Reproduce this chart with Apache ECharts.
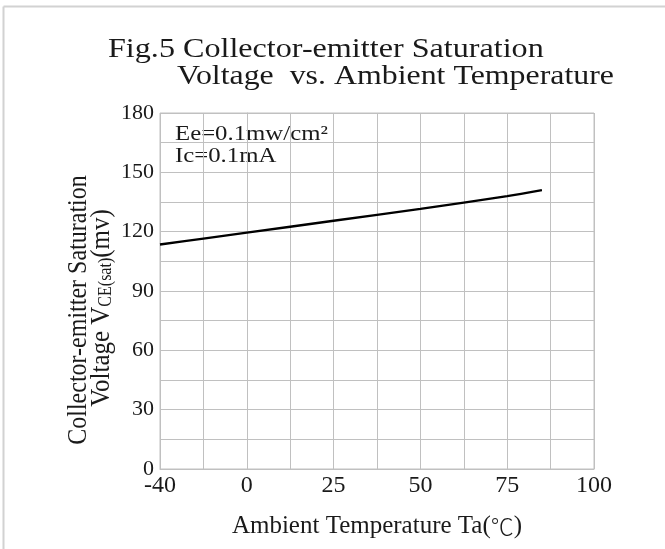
<!DOCTYPE html>
<html>
<head>
<meta charset="utf-8">
<script src="https://cdn.jsdelivr.net/npm/echarts@6/dist/echarts.min.js"></script>
<style>html,body{margin:0;padding:0;background:#fff}#c{width:665px;height:549px}</style>
</head>
<body>
<div id="c"></div>
<script>
// Data
const temps = [-40, -20, 0, 25, 50, 75, 85];            // Ta (°C)
const vceSat = [113.5, 116.5, 119.5, 125.5, 131.5, 138, 141]; // mV
const xTickLabels = [-40, 0, 25, 50, 75, 100];
const yTickLabels = [0, 30, 60, 90, 120, 150, 180];

// Broken x-axis: -40..0 occupies two grid columns (same as 25 °C on the right side)
function xPos(t) { return t < 0 ? t * 25 / 40 : t; }

const FONT = '"Liberation Serif", "Times New Roman", "Noto Sans CJK SC", serif';
const chart = echarts.init(document.getElementById('c'), null, {renderer: 'canvas'});

const seriesData = temps.map((t, i) => [xPos(t), vceSat[i]]);

chart.setOption({
  backgroundColor: '#fff',
  animation: false,
  grid: {left: 160, right: 71, top: 113, bottom: 80, show: true, borderColor: '#c0c0c0', borderWidth: 1},
  xAxis: {
    type: 'value', min: xPos(-40), max: 100, interval: 12.5,
    name: 'Ambient Temperature Ta({c|℃})', nameLocation: 'middle', nameGap: 45,
    nameTextStyle: {fontFamily: FONT, fontSize: 25, color: '#1a1a1a',
      rich: {c: {fontFamily: '"Noto Sans CJK SC", sans-serif', fontSize: 23, fontWeight: 300, color: '#1a1a1a'}}},
    axisLine: {show: true, lineStyle: {color: '#c0c0c0'}},
    axisTick: {show: false},
    splitLine: {show: true, lineStyle: {color: '#c0c0c0', width: 1}},
    axisLabel: {
      fontFamily: FONT, fontSize: 24, color: '#1a1a1a', margin: 5, showMinLabel: true, showMaxLabel: true,
      formatter: function (v) {
        for (const t of xTickLabels) { if (Math.abs(xPos(t) - v) < 1e-6) return String(t); }
        return '';
      }
    }
  },
  yAxis: {
    type: 'value', min: 0, max: 180, interval: 15,
    axisLine: {show: true, lineStyle: {color: '#c0c0c0'}},
    axisTick: {show: false},
    splitLine: {show: true, lineStyle: {color: '#c0c0c0', width: 1}},
    axisLabel: {
      fontFamily: FONT, fontSize: 22, color: '#1a1a1a', margin: 6,
      formatter: function (v) { return yTickLabels.indexOf(v) >= 0 ? String(v) : ''; }
    }
  },
  series: [{
    type: 'line', data: seriesData, smooth: 0.3, showSymbol: false,
    lineStyle: {color: '#000', width: 2.4}
  }],
  graphic: [
    {type: 'line', shape: {x1: 3.5, y1: 6.5, x2: 665, y2: 6.5}, style: {stroke: '#d2d2d2', lineWidth: 2}},
    {type: 'line', shape: {x1: 3.5, y1: 6.5, x2: 3.5, y2: 549}, style: {stroke: '#d2d2d2', lineWidth: 2}},
    {type: 'text', x: 108, y: 50, scaleX: 1.19,
     style: {text: 'Fig.5 Collector-emitter Saturation', font: '27px ' + FONT, fill: '#1a1a1a', textAlign: 'left', textVerticalAlign: 'middle'}},
    {type: 'text', x: 177, y: 77, scaleX: 1.18,
     style: {text: 'Voltage  vs. Ambient Temperature', font: '27px ' + FONT, fill: '#1a1a1a', textAlign: 'left', textVerticalAlign: 'middle'}},
    {type: 'text', x: 175, y: 134, scaleX: 1.18,
     style: {text: 'Ee=0.1mw/cm²', font: '21px ' + FONT, fill: '#1a1a1a', textAlign: 'left', textVerticalAlign: 'middle'}},
    {type: 'text', x: 175, y: 156, scaleX: 1.18,
     style: {text: 'Ic=0.1mA', font: '21px ' + FONT, fill: '#1a1a1a', textAlign: 'left', textVerticalAlign: 'middle'}},
    {type: 'text', x: 79, y: 310, rotation: Math.PI / 2, scaleY: 1.12,
     style: {text: 'Collector-emitter Saturation', font: '24px ' + FONT, fill: '#1a1a1a', textAlign: 'center', textVerticalAlign: 'middle'}},
    {type: 'text', x: 102, y: 308, rotation: Math.PI / 2, scaleY: 1.12,
     style: {text: 'Voltage V{sub|CE(sat)}(mv)', font: '25px ' + FONT, fill: '#1a1a1a', textAlign: 'center', textVerticalAlign: 'middle',
       rich: {sub: {fontFamily: FONT, fontSize: 16, fill: '#1a1a1a', padding: [8, 0, 0, 0]}}}}
  ]
});
</script>
</body>
</html>
